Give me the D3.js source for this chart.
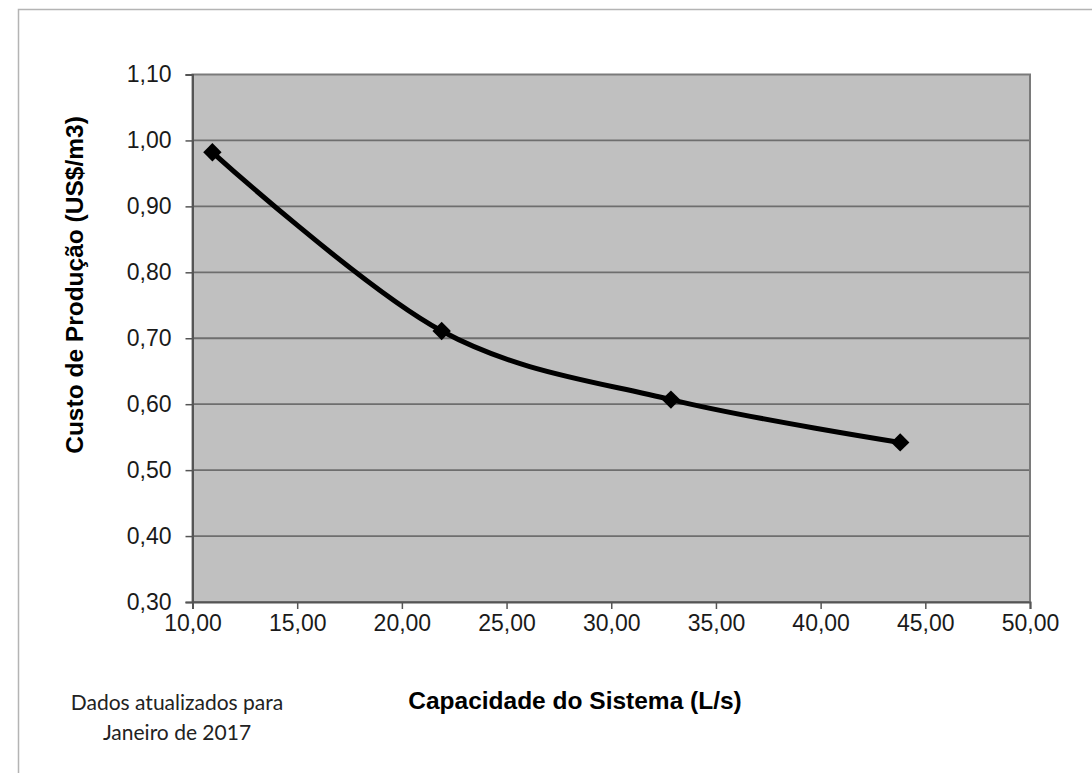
<!DOCTYPE html>
<html>
<head>
<meta charset="utf-8">
<script src="https://cdn.jsdelivr.net/npm/d3@7"></script>
<style>
  html, body { margin: 0; padding: 0; background: #fff; }
  svg { display: block; }
</style>
</head>
<body>
<script>
// Production cost versus system capacity
const capacity = [10.95, 21.9, 32.85, 43.8];          // L/s
const cost = [0.982, 0.711, 0.607, 0.542];            // US$/m3
const xTicks = [10, 15, 20, 25, 30, 35, 40, 45, 50];
const yTicks = [0.3, 0.4, 0.5, 0.6, 0.7, 0.8, 0.9, 1.0, 1.1];

const W = 1092, H = 773;
const plot = { left: 192.5, top: 74.5, right: 1030, bottom: 602 };

const fmt = v => d3.format(".2f")(v).replace(".", ",");

const svg = d3.select("body").append("svg")
  .attr("width", W).attr("height", H);

// outer frame
svg.append("rect")
  .attr("x", 18.5).attr("y", 9.5)
  .attr("width", W + 20).attr("height", H + 20)
  .attr("fill", "none").attr("stroke", "#b4b4b4").attr("stroke-width", 1.5);

const x = d3.scaleLinear().domain([10, 50]).range([plot.left, plot.right]);
const y = d3.scaleLinear().domain([0.3, 1.1]).range([plot.bottom, plot.top]);

// plot background
svg.append("rect")
  .attr("x", plot.left).attr("y", plot.top)
  .attr("width", plot.right - plot.left).attr("height", plot.bottom - plot.top)
  .attr("fill", "#c0c0c0");

// horizontal gridlines
svg.append("g").selectAll("line")
  .data(yTicks.slice(1, -1))
  .join("line")
  .attr("x1", plot.left).attr("x2", plot.right)
  .attr("y1", d => y(d)).attr("y2", d => y(d))
  .attr("stroke", "#6e6e6e").attr("stroke-width", 1.8);

// plot border
svg.append("rect")
  .attr("x", plot.left).attr("y", plot.top)
  .attr("width", plot.right - plot.left).attr("height", plot.bottom - plot.top)
  .attr("fill", "none").attr("stroke", "#7a7a7a").attr("stroke-width", 2);

const tickFont = "'Liberation Sans', Arial, Helvetica, sans-serif";

// y axis
const yAxis = svg.append("g")
  .attr("transform", `translate(${plot.left},0)`)
  .call(d3.axisLeft(y).tickValues(yTicks).tickFormat(fmt).tickSize(7).tickPadding(14));
yAxis.attr("font-family", tickFont).attr("font-size", 23);
yAxis.select(".domain").attr("stroke", "#555").attr("stroke-width", 2);
yAxis.selectAll(".tick line").attr("stroke", "#555").attr("stroke-width", 1.5);
yAxis.selectAll("text").attr("fill", "#1a1a1a");

// x axis
const xAxis = svg.append("g")
  .attr("transform", `translate(0,${plot.bottom})`)
  .call(d3.axisBottom(x).tickValues(xTicks).tickFormat(fmt).tickSize(7).tickPadding(6));
xAxis.attr("font-family", tickFont).attr("font-size", 23);
xAxis.select(".domain").attr("stroke", "#555").attr("stroke-width", 2);
xAxis.selectAll(".tick line").attr("stroke", "#555").attr("stroke-width", 1.5);
xAxis.selectAll("text").attr("fill", "#1a1a1a");

// smoothed series line
const pts = capacity.map((c, i) => [c, cost[i]]);
const line = d3.line()
  .x(d => x(d[0])).y(d => y(d[1]))
  .curve(d3.curveCardinal.tension(0));
svg.append("path")
  .datum(pts)
  .attr("d", line)
  .attr("fill", "none").attr("stroke", "#000").attr("stroke-width", 5)
  .attr("stroke-linejoin", "round");

// diamond markers
svg.append("g").selectAll("path")
  .data(pts)
  .join("path")
  .attr("transform", d => `translate(${x(d[0])},${y(d[1])}) rotate(45)`)
  .attr("d", "M-6.5,-6.5H6.5V6.5H-6.5Z")
  .attr("fill", "#000");

// axis titles
svg.append("text")
  .attr("transform", `translate(83,285) rotate(-90)`)
  .attr("text-anchor", "middle")
  .attr("font-family", tickFont)
  .attr("font-weight", "bold").attr("font-size", 24.5).attr("fill", "#000")
  .text("Custo de Produção (US$/m3)");

svg.append("text")
  .attr("x", 575).attr("y", 709)
  .attr("text-anchor", "middle")
  .attr("font-family", tickFont)
  .attr("font-weight", "bold").attr("font-size", 24.5).attr("fill", "#000")
  .text("Capacidade do Sistema (L/s)");

// data note
const note = svg.append("g")
  .attr("font-family", "Lato, 'Open Sans', sans-serif")
  .attr("font-size", 21).attr("fill", "#222")
  .attr("text-anchor", "middle");
note.append("text").attr("x", 177).attr("y", 710).text("Dados atualizados para");
note.append("text").attr("x", 177).attr("y", 740).text("Janeiro de 2017");
</script>
</body>
</html>
